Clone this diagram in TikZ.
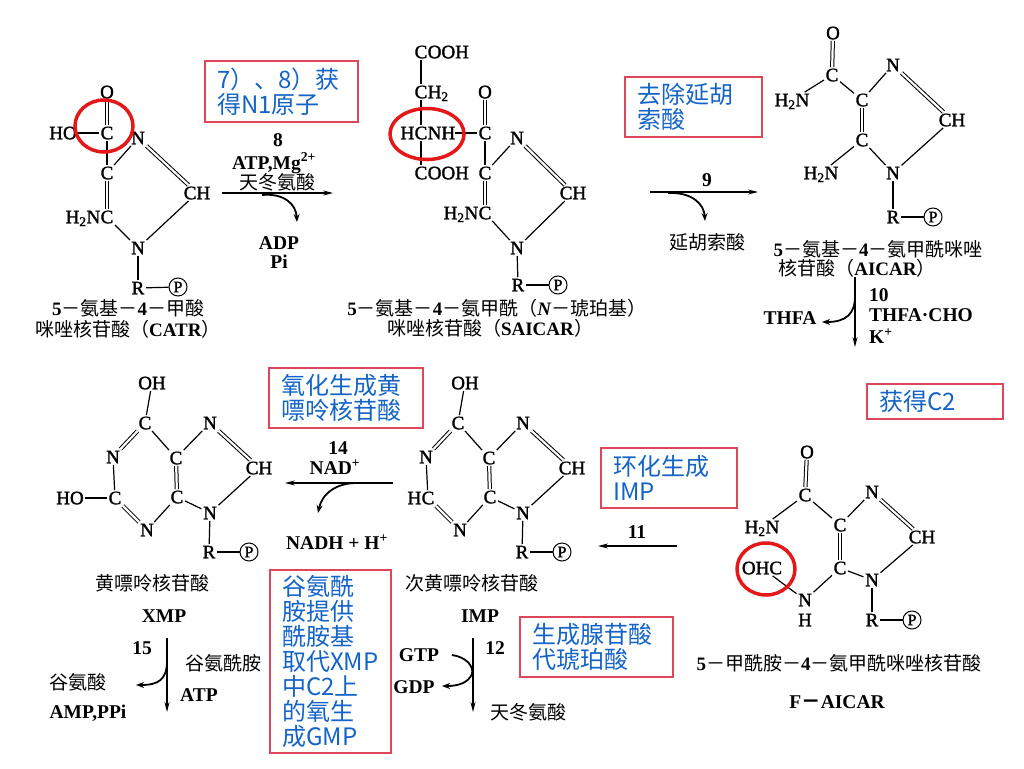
\documentclass[tikz,border=0pt]{standalone}
\usepackage{fontspec}
\setmainfont{Liberation Serif}
\newfontfamily\semib[FakeBold=1.6]{Liberation Serif}
\newfontfamily\cjk{Noto Sans CJK SC}
\usetikzlibrary{arrows.meta,shapes.geometric}
\definecolor{annblue}{RGB}{20,100,200}
\definecolor{boxred}{RGB}{222,70,90}
\definecolor{ringred}{RGB}{228,24,24}
\newcommand\zh[1]{{\cjk #1}}
\tikzset{
  atom/.style={font=\semib\fontsize{19}{19}\selectfont, inner sep=1.5pt, text height=12.5pt, text depth=0pt},
  piece/.style={font=\semib\fontsize{19}{19}\selectfont, inner sep=0pt, text height=12.5pt, text depth=0pt},
  bond/.style={line width=1.2pt},
  dbond/.style={line width=1pt, double, double distance=2.2pt},
  phos/.style={circle, draw, line width=1pt, inner sep=0pt, minimum size=18pt, font=\semib\fontsize{16}{16}\selectfont},
  lab/.style={font=\fontsize{19}{19}\selectfont, inner sep=0pt},
  alab/.style={font=\bfseries\fontsize{19.5}{19.5}\selectfont, inner sep=0pt},
  rxn/.style={line width=1.2pt, -{Stealth[length=10pt,width=5pt]}},
  sidearr/.style={line width=1.8pt, -{Stealth[length=8pt,width=6pt]}},
  annbox/.style={draw=boxred, line width=1.2pt, text=annblue, font=\cjk\fontsize{24}{25}\selectfont, align=left, inner xsep=12pt, inner ysep=0pt},
  hilite/.style={draw=ringred, line width=3.5pt, ellipse, inner sep=0pt}
}
\newcommand\purinering[2]{%
\begin{scope}[xshift=#2pt]
 \node[atom] (#1OH) at (152,383) {OH};
 \node[atom] (#1C6) at (145,423) {C};
 \node[atom] (#1N1) at (113,457) {N};
 \node[atom] (#1C5) at (176,458) {C};
 \node[atom] (#1N7) at (210,423) {N};
 \node[atom] (#1C8) at (259,468) {CH};
 \node[atom] (#1C2) at (115,498) {C};
 \node[atom] (#1C4) at (177,497) {C};
 \node[atom] (#1N9) at (210,513) {N};
 \node[atom] (#1N3) at (147,530) {N};
 \node[atom] (#1R) at (209,552) {R};
 \node[phos] (#1P) at (249,552) {P};
 \draw[bond] (#1OH) -- (#1C6);
 \draw[dbond] (#1C6) -- (#1N1);
 \draw[bond] (#1N1) -- (#1C2);
 \draw[dbond] (#1C2) -- (#1N3);
 \draw[bond] (#1N3) -- (#1C4);
 \draw[dbond] (#1C4) -- (#1C5);
 \draw[bond] (#1C5) -- (#1C6);
 \draw[bond] (#1C5) -- (#1N7);
 \draw[dbond] (#1N7) -- (#1C8);
 \draw[bond] (#1C8) -- (#1N9);
 \draw[bond] (#1N9) -- (#1C4);
 \draw[bond] (#1N9) -- (#1R);
 \draw[bond] (#1R) -- (#1P);
\end{scope}}
\begin{document}
\begin{tikzpicture}[x=1pt,y=-1pt]
\fill[white] (0,0) rectangle (1024,768);
\path[use as bounding box] (0,0) rectangle (1024,768);

% ---------- CATR ----------
\node[atom] (s1O) at (107,92) {O};
\node[atom] (s1Ca) at (107,133) {C};
\node[atom] (s1HO) at (63,133) {HO};
\node[atom] (s1N3) at (138,138) {N};
\node[atom] (s1C4) at (107,173) {C};
\node[atom] (s1CH) at (197,193) {CH};
\node[atom] (s1C5) at (107,217) {C};
\node[piece, anchor=base east, xshift=1.5pt] (s1H2N) at (s1C5.base west) {H\textsubscript{2}N};
\node[atom] (s1N1) at (138,248) {N};
\node[atom] (s1R) at (138,288) {R};
\node[phos] (s1P) at (178,287) {P};
\draw[dbond] (s1O) -- (s1Ca);
\draw[bond] (s1HO) -- (s1Ca);
\draw[bond] (s1Ca) -- (s1C4);
\draw[bond] (s1C4) -- (s1N3);
\draw[dbond] (s1N3) -- (s1CH);
\draw[bond] (s1CH) -- (s1N1);
\draw[bond] (s1N1) -- (s1C5);
\draw[dbond] (s1C5) -- (s1C4);
\draw[bond] (s1N1) -- (s1R);
\draw[bond] (s1R) -- (s1P);
\node[lab] (l1a) at (128,308) {\textbf{5}\zh{－氨基－}\textbf{4}\zh{－甲酸}};
\node[lab] (l1b) at (128,329) {\zh{咪唑核苷酸（}\textbf{CATR}\zh{）}};

% ---------- arrow 8 ----------
\coordinate (a8s) at (222,193);
\coordinate (a8e) at (333,193);
\draw[rxn] (a8s) -- (a8e);
\coordinate (a8b) at (262,195);
\coordinate (a8c) at (297,222);
\draw[sidearr] (a8b) .. controls (284,193) and (296,204) .. (a8c);
\node[alab] (t8) at (278,140) {8};
\node[alab] (t8a) at (274,163) {ATP,Mg\textsuperscript{2+}};
\node[lab] (t8b) at (277,182) {\zh{天冬氨酸}};
\node[alab] (t8c) at (279,243) {ADP};
\node[alab] (t8d) at (279,262) {Pi};

% ---------- SAICAR ----------
\node[atom] (s2cA) at (421,52) {C};
\node[piece, anchor=base west, xshift=-1.5pt] (s2ooA) at (s2cA.base east) {OOH};
\node[atom] (s2cB) at (421,92) {C};
\node[piece, anchor=base west, xshift=-1.5pt] (s2h2) at (s2cB.base east) {H\textsubscript{2}};
\node[atom] (s2cC) at (421,133) {C};
\node[piece, anchor=base east, xshift=1.5pt] (s2hC) at (s2cC.base west) {H};
\node[piece, anchor=base west, xshift=-1.5pt] (s2nh) at (s2cC.base east) {NH};
\node[atom] (s2cD) at (421,173) {C};
\node[piece, anchor=base west, xshift=-1.5pt] (s2ooD) at (s2cD.base east) {OOH};
\node[atom] (s2O) at (485,92) {O};
\node[atom] (s2C3) at (485,133) {C};
\node[atom] (s2N3) at (517,138) {N};
\node[atom] (s2C4) at (485,173) {C};
\node[atom] (s2CH) at (573,193) {CH};
\node[atom] (s2C5) at (485,213) {C};
\node[piece, anchor=base east, xshift=1.5pt] (s2H2N) at (s2C5.base west) {H\textsubscript{2}N};
\node[atom] (s2N1) at (517,248) {N};
\node[atom] (s2R) at (518,285) {R};
\node[phos] (s2P) at (558,285) {P};
\draw[bond] (s2cA) -- (s2cB) -- (s2cC) -- (s2cD);
\draw[bond] (s2nh) -- (s2C3);
\draw[dbond] (s2O) -- (s2C3);
\draw[bond] (s2C3) -- (s2C4);
\draw[bond] (s2C4) -- (s2N3);
\draw[dbond] (s2N3) -- (s2CH);
\draw[bond] (s2CH) -- (s2N1);
\draw[bond] (s2N1) -- (s2C5);
\draw[dbond] (s2C5) -- (s2C4);
\draw[bond] (s2N1) -- (s2R);
\draw[bond] (s2R) -- (s2P);
\node[lab] (l2a) at (497,308) {\textbf{5}\zh{－氨基－}\textbf{4}\zh{－氨甲酰（}\textbf{\textit{N}}\zh{－琥珀基）}};
\node[lab] (l2b) at (490,328) {\zh{咪唑核苷酸（}\textbf{SAICAR}\zh{）}};

% ---------- arrow 9 ----------
\coordinate (a9s) at (650,192);
\coordinate (a9e) at (758,192);
\draw[rxn] (a9s) -- (a9e);
\coordinate (a9b) at (668,193);
\coordinate (a9c) at (705,221);
\draw[sidearr] (a9b) .. controls (692,192) and (704,204) .. (a9c);
\node[alab] (t9) at (707,180) {9};
\node[lab] (t9a) at (707,242) {\zh{延胡索酸}};

% ---------- AICAR ----------
\node[atom] (s3O) at (833,33) {O};
\node[atom] (s3Ca) at (832,75) {C};
\node[atom] (s3H2Na) at (792,100) {H\textsubscript{2}N};
\node[atom] (s3C4) at (862,100) {C};
\node[atom] (s3N3) at (893,65) {N};
\node[atom] (s3CH) at (952,120) {CH};
\node[atom] (s3C5) at (862,140) {C};
\node[atom] (s3H2Nb) at (821,173) {H\textsubscript{2}N};
\node[atom] (s3N1) at (893,173) {N};
\node[atom] (s3R) at (893,217) {R};
\node[phos] (s3P) at (933,217) {P};
\draw[dbond] (s3O) -- (s3Ca);
\draw[bond] (s3Ca) -- (s3H2Na);
\draw[bond] (s3Ca) -- (s3C4);
\draw[bond] (s3C4) -- (s3N3);
\draw[dbond] (s3N3) -- (s3CH);
\draw[bond] (s3CH) -- (s3N1);
\draw[bond] (s3N1) -- (s3C5);
\draw[dbond] (s3C5) -- (s3C4);
\draw[bond] (s3C5) -- (s3H2Nb);
\draw[bond] (s3N1) -- (s3R);
\draw[bond] (s3R) -- (s3P);
\node[lab] (l3a) at (878,249) {\textbf{5}\zh{－氨基－}\textbf{4}\zh{－氨甲酰咪唑}};
\node[lab] (l3b) at (857,268) {\zh{核苷酸（}\textbf{AICAR}\zh{）}};

% ---------- arrow 10 ----------
\coordinate (a10s) at (855,277);
\coordinate (a10e) at (855,347);
\draw[rxn] (a10s) -- (a10e);
\coordinate (a10b) at (855,296);
\coordinate (a10c) at (822,322);
\draw[sidearr] (a10b) .. controls (855,314) and (846,322) .. (a10c);
\node[alab, anchor=west] (t10) at (869,295) {10};
\node[alab, anchor=west] (t10a) at (869,315) {THFA·CHO};
\node[alab, anchor=west] (t10b) at (869,336) {K\textsuperscript{+}};
\node[alab] (t10c) at (790,318) {THFA};

% ---------- XMP / IMP ----------
\purinering{x}{0}
\node[atom] (xHO) at (70,498) {HO};
\draw[bond] (xHO) -- (xC2);
\purinering{i}{313}
\node[piece, anchor=base east, xshift=1.5pt] (iH2) at (iC2.base west) {H};
\node[lab] (l4) at (152,583) {\zh{黄嘌呤核苷酸}};
\node[alab] (l4b) at (164,616) {XMP};
\node[lab] (l5) at (472,583) {\zh{次黄嘌呤核苷酸}};
\node[alab] (l5b) at (480,616) {IMP};

% ---------- arrow 14 ----------
\coordinate (a14s) at (393,483);
\coordinate (a14e) at (285,483);
\draw[rxn] (a14s) -- (a14e);
\coordinate (a14b) at (360,483);
\coordinate (a14c) at (318,513);
\draw[sidearr] (a14b) .. controls (336,482) and (322,494) .. (a14c);
\node[alab] (t14) at (338,448) {14};
\node[alab] (t14a) at (335,467) {NAD\textsuperscript{+}};
\node[alab] (t14b) at (337,542) {NADH + H\textsuperscript{+}};

% ---------- arrow 11 ----------
\coordinate (a11s) at (677,546);
\coordinate (a11e) at (598,546);
\draw[rxn] (a11s) -- (a11e);
\node[alab] (t11) at (637,532) {11};

% ---------- F-AICAR ----------
\node[atom] (s6O) at (807,452) {O};
\node[atom] (s6Ca) at (805,495) {C};
\node[atom] (s6H2N) at (762,527) {H\textsubscript{2}N};
\node[atom] (s6C4) at (840,525) {C};
\node[atom] (s6N3) at (872,492) {N};
\node[atom] (s6CH) at (922,537) {CH};
\node[atom] (s6C5) at (840,568) {C};
\node[atom] (s6N1) at (872,580) {N};
\node[atom] (s6NH) at (805,600) {N};
\node[atom] (s6H) at (805,620) {H};
\node[atom] (s6OHC) at (762,568) {OHC};
\node[atom] (s6R) at (872,620) {R};
\node[phos] (s6P) at (912,620) {P};
\draw[dbond] (s6O) -- (s6Ca);
\draw[bond] (s6Ca) -- (s6H2N);
\draw[bond] (s6Ca) -- (s6C4);
\draw[bond] (s6C4) -- (s6N3);
\draw[dbond] (s6N3) -- (s6CH);
\draw[bond] (s6CH) -- (s6N1);
\draw[bond] (s6N1) -- (s6C5);
\draw[dbond] (s6C5) -- (s6C4);
\draw[bond] (s6C5) -- (s6NH);
\draw[bond] (s6NH) -- (s6OHC);
\draw[bond] (s6N1) -- (s6R);
\draw[bond] (s6R) -- (s6P);
\node[lab] (l6) at (839,663) {\textbf{5}\zh{－甲酰胺－}\textbf{4}\zh{－氨甲酰咪唑核苷酸}};
\node[alab] (l6b) at (837,702) {F\zh{－}AICAR};

% ---------- arrow 15 ----------
\coordinate (a15s) at (167,638);
\coordinate (a15e) at (167,712);
\draw[rxn] (a15s) -- (a15e);
\coordinate (a15b) at (167,661);
\coordinate (a15c) at (136,685);
\draw[sidearr] (a15b) .. controls (167,680) and (158,685) .. (a15c);
\node[alab] (t15) at (142,648) {15};
\node[lab] (t15a) at (223,663) {\zh{谷氨酰胺}};
\node[alab, anchor=west] (t15b) at (180,695) {ATP};
\node[lab] (t15c) at (78,682) {\zh{谷氨酸}};
\node[alab] (t15d) at (88,713) {AMP,PPi};

% ---------- arrow 12 ----------
\coordinate (a12s) at (473,638);
\coordinate (a12e) at (473,712);
\draw[rxn] (a12s) -- (a12e);
\coordinate (a12b) at (452,655);
\coordinate (a12m) at (472,674);
\coordinate (a12c) at (442,686);
\draw[sidearr] (a12b) .. controls (466,657) and (474,666) .. (a12m) .. controls (468,683) and (458,686) .. (a12c);
\node[alab] (t12) at (495,648) {12};
\node[alab] (t12a) at (419,655) {GTP};
\node[alab] (t12b) at (414,687) {GDP};
\node[lab] (t12c) at (528,712) {\zh{天冬氨酸}};

% ---------- highlight rings ----------
\node[hilite, minimum width=58pt, minimum height=52pt] (r1) at (104,126) {};
\node[hilite, minimum width=74pt, minimum height=51pt] (r2) at (427,134) {};
\node[hilite, minimum width=58pt, minimum height=52pt] (r3) at (766,569) {};

% ---------- annotation boxes ----------
\node[annbox, minimum width=153pt, minimum height=61pt, text width=129pt] (b1) at (281.5,91.5) {7）、8）获\\得N1原子};
\node[annbox, minimum width=137pt, minimum height=60pt, text width=113pt] (b2) at (693.5,107) {去除延胡\\索酸};
\node[annbox, minimum width=154pt, minimum height=60pt, text width=130pt] (b3) at (346,398) {氧化生成黄\\嘌呤核苷酸};
\node[annbox, minimum width=136pt, minimum height=35pt, text width=112pt] (b4) at (935,401.5) {获得C2};
\node[annbox, minimum width=136pt, minimum height=60pt, text width=112pt] (b5) at (669,478) {环化生成\\IMP};
\node[annbox, minimum width=121pt, minimum height=183pt, text width=97pt] (b6) at (330.5,661.5) {谷氨酰\\胺提供\\酰胺基\\取代XMP\\中C2上\\的氧生\\成GMP};
\node[annbox, minimum width=153pt, minimum height=60pt, text width=129pt] (b7) at (596.5,647) {生成腺苷酸\\代琥珀酸};
\end{tikzpicture}
\end{document}
